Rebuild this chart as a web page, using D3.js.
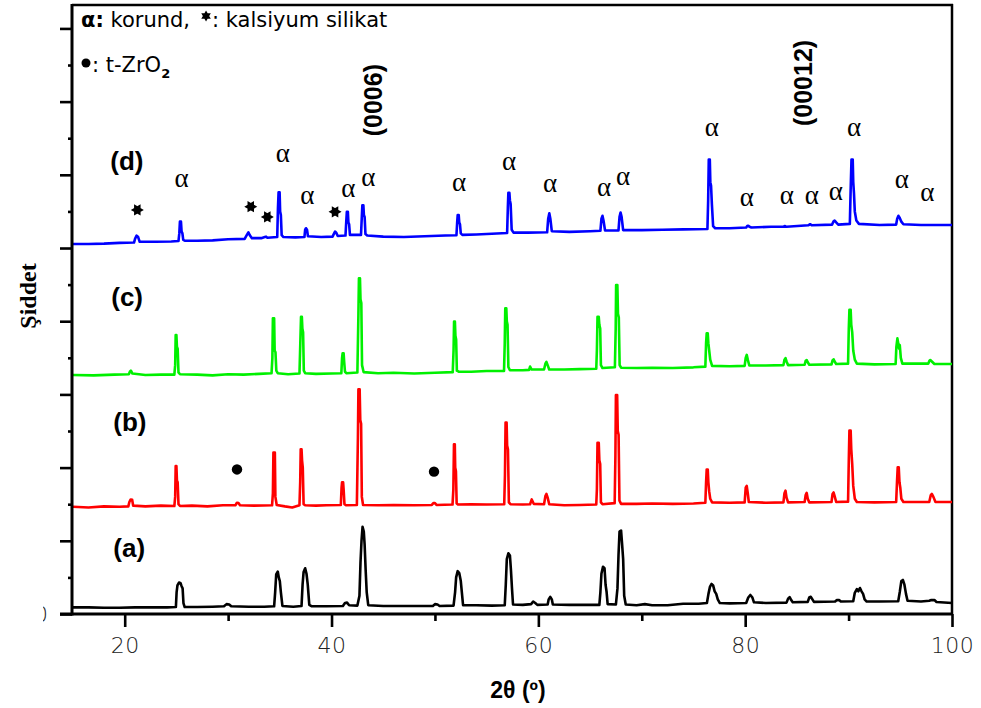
<!DOCTYPE html>
<html>
<head>
<meta charset="utf-8">
<script src="https://cdn.jsdelivr.net/npm/d3@7"></script>
<style>
  body { margin: 0; background: #fff; }
  svg { display: block; }
</style>
</head>
<body>
<svg id="chart" width="981" height="708"></svg>
<script>
// XRD patterns: [2θ (deg), intensity (a.u., stacked)]
const patternA = [
  [15,18],[16.5,18],[18,17],[19.5,17],[21,18],[22.5,18],[24.1,18],[24.95,19],[25.02,60],[25.1,78],[25.25,86],[25.4,84],[25.5,76],[25.6,70],[25.68,30],[25.8,19],
  [27,19],[28.5,20],[29.6,21],[29.85,27],[30.1,26],[30.3,21],[32,20],[33.5,20],[34.45,21],[34.55,60],[34.65,108],[34.8,116],[34.9,100],[35.0,90],[35.1,60],[35.25,22],
  [36.3,20],[37.1,22],[37.2,80],[37.3,115],[37.45,125],[37.58,110],[37.7,80],[37.85,25],[38.1,21],
  [39.5,21],[41.1,22],[41.3,30],[41.5,31],[41.7,24],[42.5,23],[42.7,50],[42.8,140],[42.9,200],[43.0,238],[43.12,225],[43.2,190],[43.3,120],[43.4,60],[43.55,24],
  [45,22],[46.8,22],[48.5,22],[49.8,22],[50.0,27],[50.25,26],[50.45,22],[51.8,23],[51.95,60],[52.05,100],[52.2,117],[52.35,112],[52.5,90],[52.6,60],[52.72,24],
  [54,24],[55.5,23],[56.75,24],[56.85,80],[56.95,150],[57.1,166],[57.25,160],[57.35,120],[57.45,70],[57.55,26],
  [58.5,25],[59.3,27],[59.5,34],[59.7,30],[59.9,25],[60.9,26],[61.0,40],[61.15,47],[61.3,40],[61.4,26],
  [63,25],[64.5,25],[65.9,25],[66.0,60],[66.1,110],[66.25,129],[66.4,125],[66.5,80],[66.6,60],[66.7,27],
  [67.5,26],[67.65,70],[67.75,160],[67.85,225],[68.0,228],[68.1,190],[68.2,150],[68.3,50],[68.45,26],
  [69.5,24],[70.3,27],[71,24],[72.5,24],[74,28],[75.5,28],[76.3,30],[76.45,55],[76.6,75],[76.75,82],[76.9,78],[77.05,62],[77.2,55],[77.35,40],[77.55,30],
  [78.5,29],[80.1,30],[80.3,45],[80.5,52],[80.7,45],[80.85,32],[82,30],[84.0,31],[84.15,42],[84.3,46],[84.45,38],[84.6,32],
  [86.05,33],[86.2,45],[86.35,47],[86.5,40],[86.65,33],[88.7,34],[88.85,38],[89.1,38],[89.25,34],
  [90.45,35],[90.6,58],[90.8,68],[90.95,62],[91.1,71],[91.25,62],[91.4,55],[91.55,40],[91.75,34],
  [93,34],[94.8,35],[94.95,60],[95.1,90],[95.25,93],[95.4,80],[95.55,55],[95.7,36],
  [97,34],[97.8,36],[98.0,38],[98.3,38],[98.5,33],[100,30]
];

const patternB = [
  [15,293],[16.5,291],[18,294],[19.5,293],[20.35,294],[20.45,306],[20.58,313],[20.72,312],[20.82,296],[22,294],[23.5,296],[24.8,295],
  [24.88,320],[24.93,404],[25.0,404],[25.05,365],[25.12,360],[25.2,300],[25.35,295],
  [26.5,296],[28,294],[29.5,297],[30.7,297],[30.85,304],[31.0,303],[31.15,297],[32.5,296],[34.25,297],
  [34.33,330],[34.38,441],[34.52,441],[34.57,320],[34.7,298],
  [35.5,294],[36.2,291],[36.9,297],[36.97,360],[37.02,450],[37.1,450],[37.15,420],[37.22,400],[37.3,300],[37.45,297],
  [38.5,296],[39.5,297],[40.9,298],[40.97,345],[41.02,360],[41.12,360],[41.17,340],[41.25,300],[41.4,297],
  [42.45,298],[42.55,480],[42.6,614],[42.72,614],[42.78,530],[42.86,520],[42.93,320],[43.05,298],
  [44.5,297],[46,298],[48,297],[49.7,298],[49.85,303],[50.0,303],[50.15,298],[51.7,299],
  [51.78,340],[51.84,464],[51.92,464],[51.96,400],[52.03,390],[52.1,302],[52.25,299],
  [53.5,300],[55,299],[56.7,300],[56.77,380],[56.83,523],[56.93,523],[56.98,460],[57.06,450],[57.15,305],[57.3,300],
  [58.5,299],[59.2,300],[59.36,313],[59.55,301],[60.55,300],[60.68,322],[60.78,328],[60.9,318],[61.05,300],
  [62.5,297],[64,298],[65.6,299],[65.66,340],[65.72,468],[65.84,468],[65.9,420],[65.98,410],[66.05,305],[66.2,300],
  [67.38,303],[67.45,430],[67.5,598],[67.62,598],[67.68,500],[67.76,490],[67.84,310],[68.0,301],
  [69.5,301],[71,302],[73,301],[75,302],[76.15,304],[76.22,360],[76.28,395],[76.38,395],[76.44,360],[76.52,335],[76.62,315],[76.8,305],
  [78.5,304],[79.95,305],[80.05,345],[80.15,350],[80.25,330],[80.35,306],
  [82,304],[83.7,305],[83.8,330],[83.9,337],[84.0,318],[84.15,305],
  [85.75,306],[85.85,325],[85.95,331],[86.05,315],[86.2,305],
  [88.35,306],[88.45,328],[88.55,332],[88.65,322],[88.8,306],
  [89.95,307],[90.02,420],[90.08,501],[90.2,501],[90.26,450],[90.35,410],[90.45,350],[90.6,315],[90.8,306],
  [92.5,305],[94.6,306],[94.68,360],[94.75,401],[94.85,401],[94.92,360],[95.0,345],[95.1,315],[95.3,306],
  [97.8,306],[97.95,325],[98.05,328],[98.2,320],[98.4,306],[100,306]
];

const patternC = [
  [15,653],[17,652],[19,654],[20.4,655],[20.5,662],[20.6,665],[20.75,657],[22,653],[23.5,654],[24.8,654],
  [24.88,680],[24.93,762],[25.0,762],[25.05,730],[25.12,725],[25.2,660],[25.35,655],
  [27,654],[28.5,652],[30,655],[31.5,654],[33,656],[34.2,658],[34.28,700],[34.33,808],[34.45,808],[34.5,720],[34.58,715],[34.66,665],[34.8,658],
  [35.8,655],[36.9,657],[36.98,740],[37.05,812],[37.13,812],[37.18,780],[37.25,770],[37.32,665],[37.45,658],
  [38.5,656],[40,657],[40.95,658],[41.02,700],[41.07,712],[41.17,712],[41.22,690],[41.3,662],[41.45,658],
  [42.5,660],[42.6,820],[42.65,917],[42.75,917],[42.8,860],[42.88,850],[42.95,680],[43.1,661],
  [44.5,658],[46,659],[48,657],[50,659],[51.72,661],[51.8,720],[51.85,799],[51.93,799],[51.98,760],[52.05,750],[52.12,665],[52.3,662],
  [53.5,662],[55,664],[56.68,664],[56.75,740],[56.8,835],[56.9,835],[56.95,800],[57.02,790],[57.1,675],[57.25,666],
  [58.5,666],[59.1,667],[59.2,676],[59.35,668],[60.55,668],[60.68,684],[60.78,689],[60.9,680],[61.05,668],
  [62.5,668],[64,669],[65.6,670],[65.66,720],[65.72,812],[65.84,812],[65.9,790],[65.98,780],[66.05,680],[66.2,672],
  [67.4,674],[67.48,780],[67.52,899],[67.64,899],[67.7,820],[67.78,810],[67.86,680],[68.0,673],
  [69.5,672],[71,673],[73,672],[75,674],[76.15,676],[76.22,740],[76.28,767],[76.38,767],[76.44,740],[76.52,720],[76.62,695],[76.8,678],
  [78.5,677],[79.95,678],[80.05,700],[80.15,708],[80.25,695],[80.4,679],
  [82,679],[83.7,680],[83.8,695],[83.9,699],[84.0,690],[84.15,680],
  [85.75,681],[85.85,692],[85.95,694],[86.05,688],[86.2,681],
  [88.35,682],[88.45,693],[88.55,696],[88.65,690],[88.8,683],
  [89.95,684],[90.02,780],[90.08,831],[90.2,831],[90.26,790],[90.35,770],[90.45,720],[90.6,695],[90.8,684],
  [92.5,682],[94.55,683],[94.62,730],[94.72,753],[94.8,740],[94.88,725],[94.95,735],[95.05,700],[95.2,684],
  [97.7,684],[97.82,692],[97.9,694],[98.05,690],[98.3,683],[100,683]
];

const patternD = [
  [15,1011],[16.5,1011],[18,1012],[19.5,1014],[20.9,1015],[21.0,1025],[21.15,1034],[21.3,1030],[21.45,1017],[23,1017],[24.5,1018],[25.2,1019],
  [25.28,1040],[25.34,1072],[25.44,1072],[25.5,1045],[25.58,1040],[25.66,1022],[25.8,1020],
  [27,1020],[28.5,1021],[30,1024],[31.6,1025],[31.8,1035],[31.96,1043],[32.1,1035],[32.3,1027],[33.2,1027],[33.55,1030],[33.67,1031],[33.8,1028],
  [34.75,1030],[34.82,1110],[34.88,1152],[34.98,1152],[35.03,1100],[35.1,1090],[35.18,1035],[35.35,1030],
  [36.5,1029],[37.38,1030],[37.45,1050],[37.53,1054],[37.63,1050],[37.72,1032],[39,1030],[40.1,1031],[40.25,1040],[40.34,1045],[40.45,1042],[40.6,1033],
  [41.35,1034],[41.42,1070],[41.48,1099],[41.58,1099],[41.63,1070],[41.7,1065],[41.78,1036],
  [42.85,1036],[42.92,1080],[42.98,1117],[43.08,1117],[43.13,1090],[43.2,1085],[43.28,1038],[43.45,1034],
  [45,1031],[47,1030],[49,1032],[51,1034],[52.08,1035],[52.15,1070],[52.2,1090],[52.3,1090],[52.35,1070],[52.42,1065],[52.5,1040],[52.65,1036],
  [54,1037],[55.5,1039],[56.98,1041],[57.05,1110],[57.1,1151],[57.2,1151],[57.25,1130],[57.32,1120],[57.42,1050],[57.6,1042],
  [59,1042],[60.85,1043],[60.95,1080],[61.06,1095],[61.16,1080],[61.3,1046],
  [63,1044],[65,1046],[66.0,1047],[66.1,1080],[66.2,1088],[66.3,1075],[66.45,1048],
  [67.75,1048],[67.85,1085],[67.95,1097],[68.05,1085],[68.2,1049],
  [70,1049],[72,1050],[74,1051],[76.35,1052],[76.42,1130],[76.48,1242],[76.58,1242],[76.63,1180],[76.7,1170],[76.78,1120],[76.9,1060],[77.1,1054],
  [78.5,1054],[80.1,1056],[80.2,1060],[80.3,1061],[80.42,1058],[80.6,1056],
  [82.5,1058],[83.7,1058],[83.86,1060],[84.0,1058],[86.1,1062],[86.28,1065],[86.45,1062],
  [88.4,1064],[88.55,1073],[88.65,1075],[88.8,1070],[89,1064],
  [90.12,1066],[90.2,1160],[90.28,1242],[90.4,1242],[90.45,1180],[90.52,1150],[90.6,1100],[90.75,1075],[91,1066],
  [93,1063],[94.6,1064],[94.7,1080],[94.82,1088],[94.95,1082],[95.1,1072],[95.3,1065],
  [97,1063],[98.5,1063],[100,1063]
];

// sample names and where they sit ([2θ, intensity])
const sampleNames = ["(a)", "(b)", "(c)", "(d)"];
const sampleNameAt = [[18.9, 156], [18.9, 500], [18.7, 841], [18.6, 1213]];

// phase markers ([2θ, intensity])
const corundumMarks = [
  [25.51,1190],[35.28,1260],[37.66,1145],[41.62,1163],[43.56,1195],[52.33,1180],
  [57.17,1238],[61.13,1178],[66.35,1167],[68.19,1197],[76.77,1330],[80.15,1140],
  [84.02,1145],[86.44,1145],[88.76,1157],[90.53,1330],[95.14,1188],[97.62,1152]
];
const silicateMarks = [[21.22,1104],[32.19,1113],[33.79,1085],[40.34,1099]];
const zirconiaMarks = [[30.86,395],[49.91,389]];
const planeLabels = ["(0006)", "(00012)"];
const planeLabelAt = [[44.01,1404],[85.6,1451]];

const xMajor = [20, 40, 60, 80, 100];
const xMinor = [30, 50, 70, 90];
const yMajor = d3.range(0, 1601, 200);
const yMinor = d3.range(100, 1600, 200);

const svg = d3.select("#chart");
const x = d3.scaleLinear().domain([15, 100]).range([73, 952]);
const y = d3.scaleLinear().domain([0, 1664]).range([614, 5]);

const colors = ["#000000", "#ff0000", "#00f000", "#0000ff"];
const patterns = [patternA, patternB, patternC, patternD];

const line = d3.line().x(d => x(d[0])).y(d => y(d[1]));

// frame
const frame = svg.append("g").attr("stroke", "#000").attr("fill", "none");
frame.append("line").attr("x1", 72).attr("x2", 953).attr("y1", 5).attr("y2", 5).attr("stroke-width", 2.5);
frame.append("line").attr("x1", 952).attr("x2", 952).attr("y1", 4).attr("y2", 614).attr("stroke-width", 2.5);

// patterns
svg.append("g").selectAll("path")
  .data(patterns)
  .join("path")
  .attr("d", line)
  .attr("fill", "none")
  .attr("stroke", (d, i) => colors[i])
  .attr("stroke-width", 2.6)
  .attr("stroke-linejoin", "round");

// axes
function styleAxis(g) {
  g.select(".domain").remove();
  g.selectAll(".tick line").attr("stroke", "#000").attr("stroke-width", 2.6);
}
const tickFont = "'DejaVu Sans', sans-serif";

svg.append("g").attr("transform", "translate(0,614)")
  .call(d3.axisBottom(x).tickValues(xMinor).tickSize(7).tickFormat(""))
  .call(styleAxis);
svg.append("g").attr("transform", "translate(0,614)")
  .call(d3.axisBottom(x).tickValues(xMajor).tickSize(13).tickPadding(10).tickFormat(d3.format("d")))
  .call(styleAxis)
  .call(g => g.selectAll("text")
    .attr("font-family", tickFont).attr("font-size", 22).attr("font-weight", 300)
    .attr("fill", "#222").attr("letter-spacing", 0.5));

// the y origin label is cut at its left side
svg.append("defs").append("clipPath").attr("id", "yclip")
  .append("rect").attr("x", -29).attr("y", -10).attr("width", 60).attr("height", 708);

svg.append("g").attr("transform", "translate(72,0)")
  .call(d3.axisLeft(y).tickValues(yMinor).tickSize(4).tickFormat(""))
  .call(styleAxis);
svg.append("g").attr("transform", "translate(72,0)").attr("clip-path", "url(#yclip)")
  .call(d3.axisLeft(y).tickValues(yMajor).tickSize(12).tickPadding(12).tickFormat(d => d === 0 ? "0" : ""))
  .call(styleAxis)
  .call(g => g.selectAll("text")
    .attr("font-family", tickFont).attr("font-size", 22).attr("font-weight", 300).attr("fill", "#222"));

// axis lines
svg.append("line").attr("x1", 72).attr("x2", 72).attr("y1", 4).attr("y2", 615.5)
  .attr("stroke", "#000").attr("stroke-width", 3);
svg.append("line").attr("x1", 60).attr("x2", 953).attr("y1", 614).attr("y2", 614)
  .attr("stroke", "#000").attr("stroke-width", 3);

// axis titles
svg.append("text")
  .attr("x", 518).attr("y", 698).attr("text-anchor", "middle")
  .attr("font-family", "'Liberation Sans', Arial, sans-serif").attr("font-weight", "bold").attr("font-size", 23)
  .text("2θ (º)");
svg.append("text")
  .attr("transform", "translate(36,296) rotate(-90)").attr("text-anchor", "middle")
  .attr("font-family", "'Liberation Serif', 'Times New Roman', serif").attr("font-weight", "bold").attr("font-size", 24)
  .text("Şiddet");

// sample names
svg.append("g").selectAll("text")
  .data(sampleNames)
  .join("text")
  .attr("x", (d, i) => x(sampleNameAt[i][0]))
  .attr("y", (d, i) => y(sampleNameAt[i][1]))
  .attr("font-family", "'Liberation Sans', Arial, sans-serif").attr("font-weight", "bold").attr("font-size", 26)
  .text(d => d);

// corundum markers
svg.append("g").selectAll("text")
  .data(corundumMarks)
  .join("text")
  .attr("x", d => x(d[0]))
  .attr("y", d => y(d[1]))
  .attr("text-anchor", "middle").attr("dominant-baseline", "central")
  .attr("font-family", "'Liberation Serif', 'Times New Roman', serif").attr("font-size", 27)
  .text("α");

// six-pointed star for calcium silicate
function hexagram(r, vertical) {
  const p = d3.path();
  const pts = k => d3.range(3).map(j => {
    const a = (vertical ? -Math.PI / 2 : 0) + k + j * 2 * Math.PI / 3;
    return [r * Math.cos(a), r * Math.sin(a)];
  });
  [0, Math.PI / 3].forEach(off => {
    const q = pts(off);
    p.moveTo(q[0][0], q[0][1]);
    p.lineTo(q[1][0], q[1][1]);
    p.lineTo(q[2][0], q[2][1]);
    p.closePath();
  });
  return p.toString();
}
svg.append("g").selectAll("path")
  .data(silicateMarks)
  .join("path")
  .attr("transform", d => `translate(${x(d[0])},${y(d[1])})`)
  .attr("d", hexagram(6.5, false))
  .attr("fill", "#000");

// zirconia markers
svg.append("g").selectAll("circle")
  .data(zirconiaMarks)
  .join("circle")
  .attr("cx", d => x(d[0])).attr("cy", d => y(d[1])).attr("r", 5.2)
  .attr("fill", "#000");

// crystal plane labels
svg.append("g").selectAll("text")
  .data(planeLabels)
  .join("text")
  .attr("transform", (d, i) => `translate(${x(planeLabelAt[i][0])},${y(planeLabelAt[i][1])}) rotate(-90)`)
  .attr("text-anchor", "middle").attr("dominant-baseline", "central")
  .attr("font-family", "'Liberation Sans', Arial, sans-serif").attr("font-weight", "bold").attr("font-size", 25)
  .text(d => d);

// legend
const legendFont = "'DejaVu Sans', sans-serif";
const lg1 = svg.append("text").attr("x", 81).attr("y", 27)
  .attr("font-family", legendFont).attr("font-size", 21);
lg1.append("tspan").attr("font-weight", "bold").text("α:");
lg1.append("tspan").text(" korund,");
const w1 = lg1.node().getComputedTextLength();
svg.append("path")
  .attr("transform", `translate(${81 + w1 + 16},16)`)
  .attr("d", hexagram(5.5, true)).attr("fill", "#000");
svg.append("text").attr("x", 81 + w1 + 22).attr("y", 27)
  .attr("font-family", legendFont).attr("font-size", 21)
  .text(": kalsiyum silikat");

svg.append("circle").attr("cx", 86).attr("cy", 63).attr("r", 4.5).attr("fill", "#000");
const lg2 = svg.append("text").attr("x", 92).attr("y", 72)
  .attr("font-family", legendFont).attr("font-size", 21);
lg2.append("tspan").text(": t-ZrO");
lg2.append("tspan").attr("font-size", 13).attr("font-weight", "bold").attr("dy", 6).text("2");
</script>
</body>
</html>
